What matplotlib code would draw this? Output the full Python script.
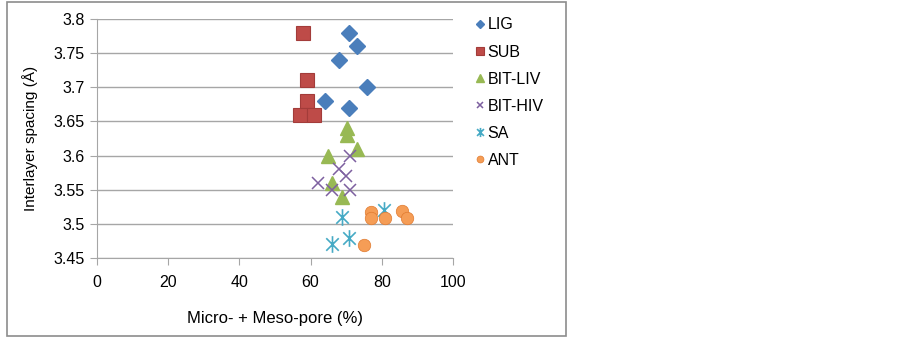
import matplotlib
matplotlib.use('Agg')
import matplotlib.pyplot as plt
from matplotlib.path import Path
from matplotlib.patches import Rectangle

plt.rcParams['font.family'] = ['Liberation Sans', 'DejaVu Sans']
plt.rcParams['font.size'] = 11.5

# data
lig_x = [70.8, 73.0, 68.0, 75.8, 64.0, 70.8]
lig_y = [3.78, 3.76, 3.74, 3.70, 3.68, 3.67]
sub_x = [58.0, 59.0, 59.0, 57.0, 61.0]
sub_y = [3.78, 3.71, 3.68, 3.66, 3.66]
liv_x = [70.2, 70.2, 73.0, 65.0, 66.0, 68.8]
liv_y = [3.64, 3.63, 3.61, 3.60, 3.56, 3.54]
hiv_x = [71.0, 68.0, 70.0, 62.0, 66.0, 71.0]
hiv_y = [3.60, 3.58, 3.57, 3.56, 3.55, 3.55]
sa_x = [68.8, 80.6, 66.0, 70.8]
sa_y = [3.51, 3.52, 3.47, 3.48]
ant_x = [77.0, 77.0, 81.0, 85.7, 87.0, 75.0]
ant_y = [3.517, 3.508, 3.508, 3.519, 3.508, 3.469]

xticks = [0, 20, 40, 60, 80, 100]
yticks = [3.45, 3.5, 3.55, 3.6, 3.65, 3.7, 3.75, 3.8]
ylabels = ['3.45', '3.5', '3.55', '3.6', '3.65', '3.7', '3.75', '3.8']

# excel style asterisk: vertical bar plus an X
star = Path([(0, -1), (0, 1), (-0.75, -0.75), (0.75, 0.75), (-0.75, 0.75), (0.75, -0.75)],
            [Path.MOVETO, Path.LINETO, Path.MOVETO, Path.LINETO, Path.MOVETO, Path.LINETO])

W, H = 903, 339
fig = plt.figure(figsize=(W / 100, H / 100), dpi=100)
fig.patches.append(Rectangle((7 / W, 1 - 336 / H), (566 - 7) / W, (336 - 2) / H,
                             transform=fig.transFigure, fill=False, edgecolor='#8c8c8c', lw=1.2))
ax = fig.add_axes([97 / W, 1 - 258 / H, (453 - 97) / W, (258 - 19) / H])

ax.plot(lig_x, lig_y, 'D', ms=8, color='#4a7ebb', ls='none', label='LIG')
ax.plot(sub_x, sub_y, 's', ms=9.5, color='#be4b48', mec='#a33c3a', mew=0.8, ls='none', label='SUB')
ax.plot(liv_x, liv_y, '^', ms=10, color='#98b954', ls='none', label='BIT-LIV')
ax.plot(hiv_x, hiv_y, 'x', ms=9, color='#7d60a0', mew=1.1, ls='none', label='BIT-HIV')
ax.plot(sa_x, sa_y, marker=star, ms=12, color='#46aac5', mew=1.2, ls='none', label='SA')
ax.plot(ant_x, ant_y, 'o', ms=9, color='#f59d56', mec='#e07a2f', mew=0.5, ls='none', label='ANT')

ax.set_xlim(0, 100)
ax.set_ylim(3.45, 3.8)
ax.set_xticks(xticks)
ax.set_yticks(yticks)
ax.set_yticklabels(ylabels)
ax.grid(axis='y', color='#a6a6a6', lw=1)
ax.set_axisbelow(True)
for s in ['top', 'right']:
    ax.spines[s].set_visible(False)
for s in ['left', 'bottom']:
    ax.spines[s].set_color('#a6a6a6')
ax.tick_params(colors='#a6a6a6', labelcolor='black', length=5, labelsize=11.5)
ax.tick_params(axis='x', pad=7)
ax.tick_params(axis='y', pad=4)

ax.set_xlabel('Micro- + Meso-pore (%)', fontsize=12, labelpad=15)
ax.set_ylabel('Interlayer spacing (Å)', fontsize=11, labelpad=11)

ax.legend(loc='upper left', bbox_to_anchor=(466 / W, 1 - 11 / H), bbox_transform=fig.transFigure,
          frameon=False, markerscale=0.55, handletextpad=0.05, handlelength=0.9,
          labelspacing=0.76, borderaxespad=0, fontsize=11.5)

fig.savefig('out.png', dpi=100)
